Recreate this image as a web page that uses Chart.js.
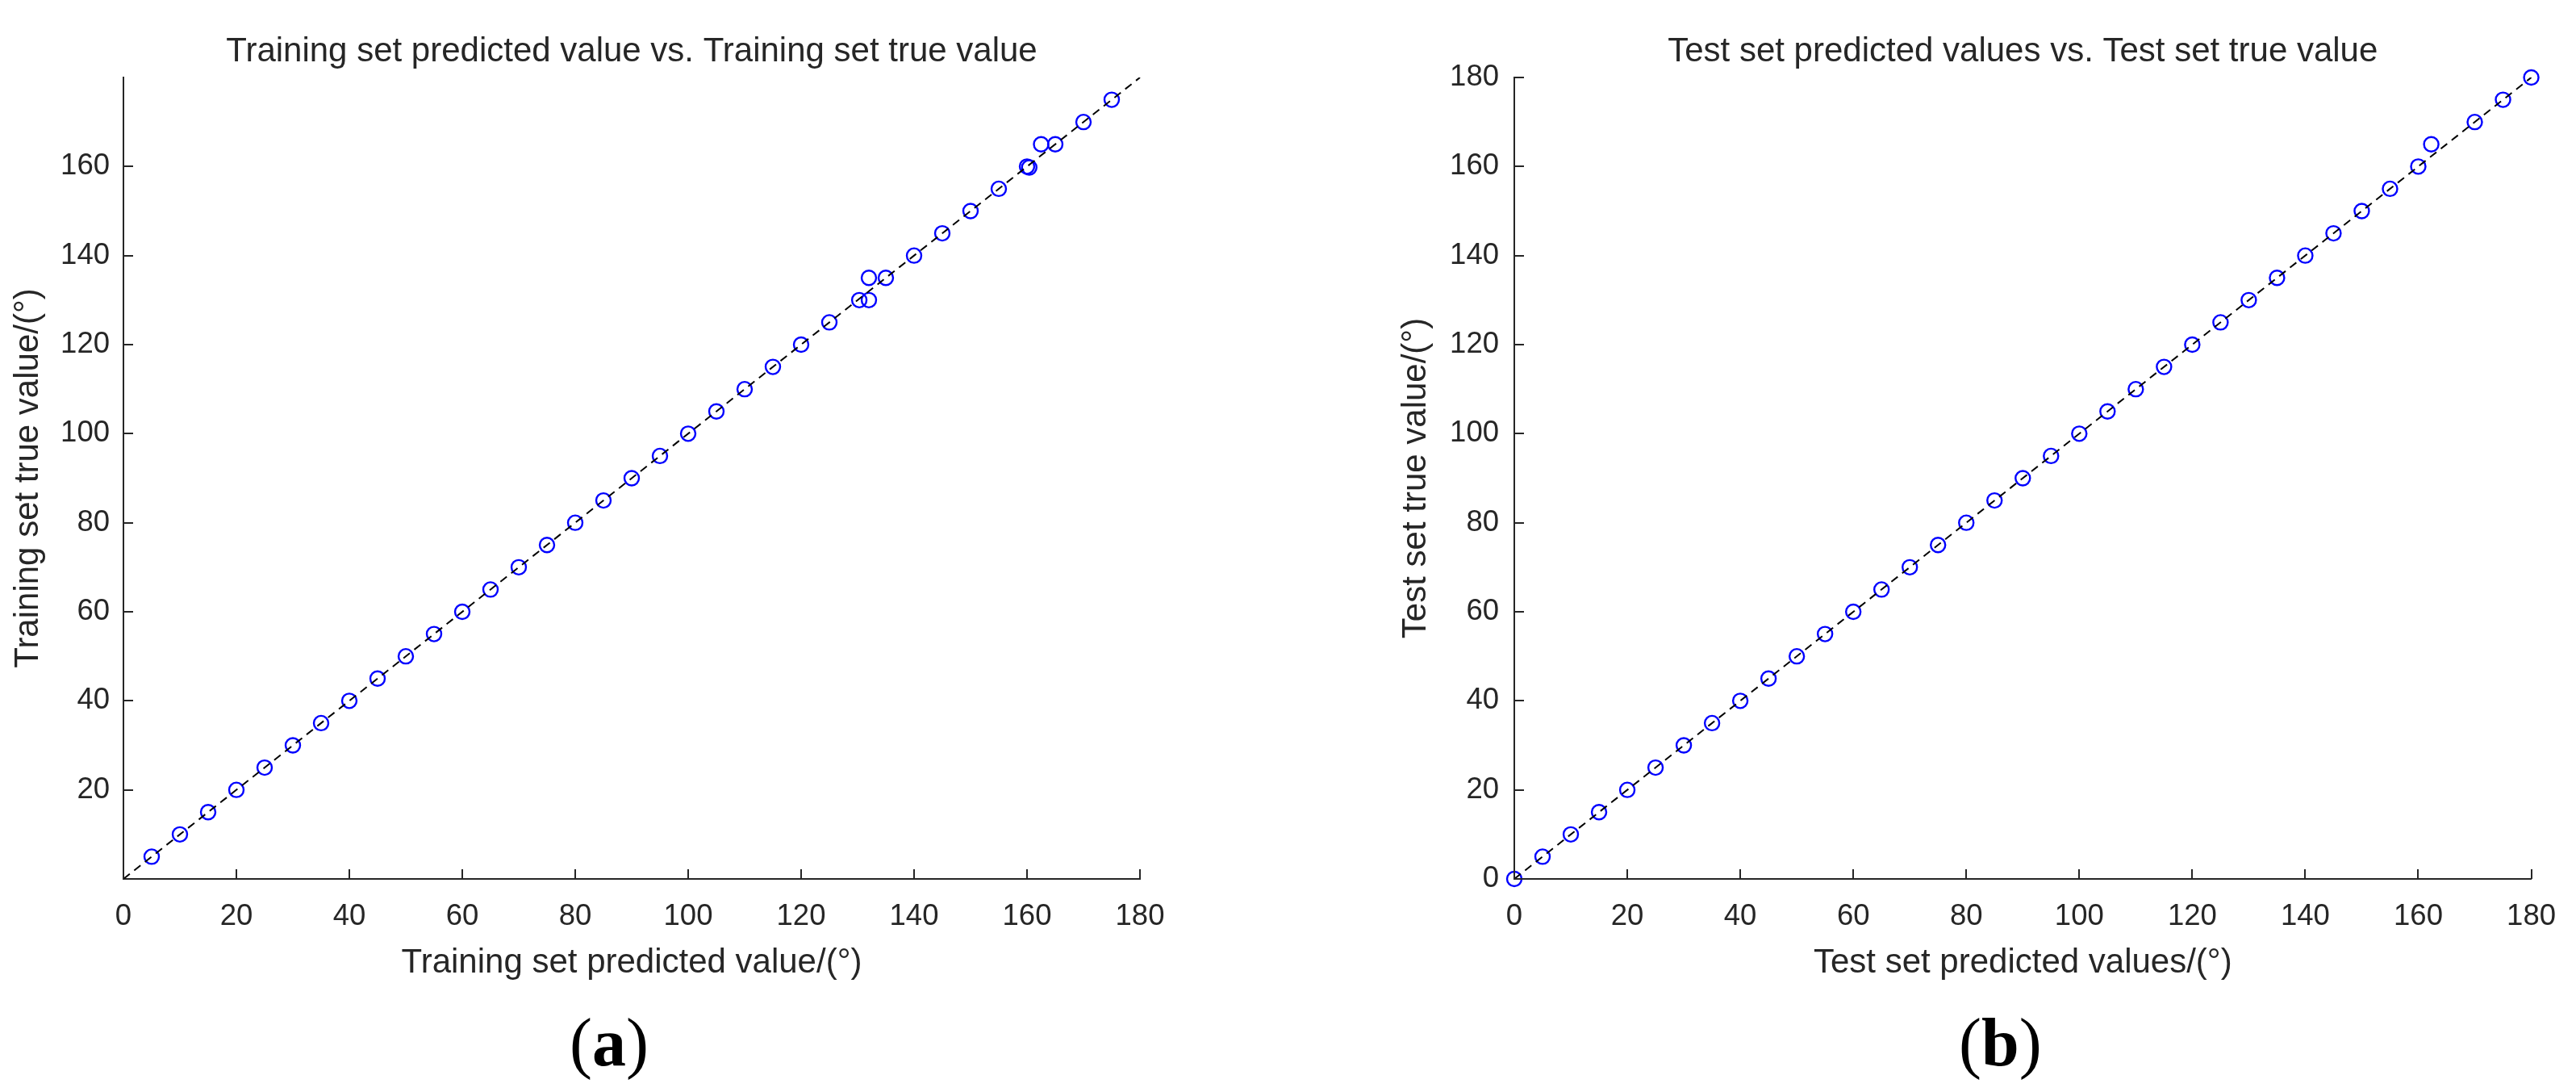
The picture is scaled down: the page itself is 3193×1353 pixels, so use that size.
<!DOCTYPE html>
<html>
<head>
<meta charset="utf-8">
<title>Predicted vs true value</title>
<script src="https://cdn.jsdelivr.net/npm/chart.js@4.4.1/dist/chart.umd.min.js"></script>
<style>
html, body { margin: 0; padding: 0; background: #fff; }
.panel { position: absolute; top: 0; height: 1353px; }
#wrapA { left: 0; width: 1596px; }
#wrapB { left: 1596px; width: 1597px; }
</style>
</head>
<body>
<div class="panel" id="wrapA"><canvas id="chartA"></canvas></div>
<div class="panel" id="wrapB"><canvas id="chartB"></canvas></div>
<script>
// (a) training set
var trainPred = [5, 10, 15, 20, 25, 30, 35, 40, 45, 50, 55, 60, 65, 70, 75, 80, 85, 90, 95, 100,
    105, 110, 115, 120, 125, 130.3, 132, 132, 135, 140, 145, 150, 155, 160, 160.4, 162.5, 165, 170, 175];
var trainTrue = [5, 10, 15, 20, 25, 30, 35, 40, 45, 50, 55, 60, 65, 70, 75, 80, 85, 90, 95, 100,
    105, 110, 115, 120, 125, 130, 130, 135, 135, 140, 145, 150, 155, 160, 159.8, 165, 165, 170, 175];

// (b) test set
var testPred = [0, 5, 10, 15, 20, 25, 30, 35, 40, 45, 50, 55, 60, 65, 70, 75, 80, 85, 90, 95, 100,
    105, 110, 115, 120, 125, 130, 135, 140, 145, 150, 155, 160, 162.3, 170, 175, 180];
var testTrue = [0, 5, 10, 15, 20, 25, 30, 35, 40, 45, 50, 55, 60, 65, 70, 75, 80, 85, 90, 95, 100,
    105, 110, 115, 120, 125, 130, 135, 140, 145, 150, 155, 160, 165, 170, 175, 180];

// y = x reference line
var refLine = [0, 180];

var xTicks = [0, 20, 40, 60, 80, 100, 120, 140, 160, 180];
var yTicksA = [20, 40, 60, 80, 100, 120, 140, 160];
var yTicksB = [0, 20, 40, 60, 80, 100, 120, 140, 160, 180];

var axisColor = '#262626';
Chart.defaults.font.family = "'Liberation Sans', Arial, sans-serif";
Chart.defaults.color = axisColor;

function toPoints(xs, ys) {
    return xs.map(function (v, i) { return { x: v, y: ys[i] }; });
}

// MATLAB style ticks pointing into the plot
var inwardTicks = {
    id: 'inwardTicks',
    afterDraw: function (chart) {
        var ctx = chart.ctx, a = chart.chartArea;
        var sx = chart.scales.x, sy = chart.scales.y;
        ctx.save();
        ctx.strokeStyle = axisColor;
        ctx.lineWidth = 2;
        ctx.beginPath();
        sx.ticks.forEach(function (t) {
            var p = Math.round(sx.getPixelForValue(t.value));
            ctx.moveTo(p, a.bottom);
            ctx.lineTo(p, a.bottom - 12);
        });
        sy.ticks.forEach(function (t) {
            var p = Math.round(sy.getPixelForValue(t.value));
            ctx.moveTo(a.left, p);
            ctx.lineTo(a.left + 12, p);
        });
        ctx.stroke();
        ctx.restore();
    }
};

// "(a)" / "(b)" under each panel
var panelLabel = {
    id: 'panelLabel',
    afterDraw: function (chart, args, opts) {
        var ctx = chart.ctx, a = chart.chartArea;
        var reg = "84px 'Liberation Serif', 'Times New Roman', serif";
        var bold = "bold 84px 'Liberation Serif', 'Times New Roman', serif";
        ctx.save();
        ctx.fillStyle = '#000';
        ctx.textBaseline = 'alphabetic';
        ctx.font = reg;
        var wp = ctx.measureText('(').width, wq = ctx.measureText(')').width;
        ctx.font = bold;
        var wl = ctx.measureText(opts.letter).width;
        var x = (a.left + a.right) / 2 + opts.shift - (wp + wl + wq) / 2;
        ctx.font = reg;
        ctx.fillText('(', x, opts.baseline);
        ctx.font = bold;
        ctx.fillText(opts.letter, x + wp, opts.baseline);
        ctx.font = reg;
        ctx.fillText(')', x + wp + wl, opts.baseline);
        ctx.restore();
    }
};

function makePanel(id, pred, tru, yTicks, cfg) {
    return new Chart(document.getElementById(id), {
        type: 'scatter',
        data: {
            datasets: [{
                type: 'line',
                data: toPoints(refLine, refLine),
                borderColor: '#000',
                borderWidth: 2,
                borderDash: [10, 7],
                pointRadius: 0,
                fill: false
            }, {
                data: toPoints(pred, tru),
                pointStyle: 'circle',
                pointRadius: 9,
                pointBorderWidth: 2.4,
                pointBorderColor: '#0000ff',
                pointBackgroundColor: 'rgba(0,0,0,0)',
                clip: false
            }]
        },
        options: {
            responsive: true,
            maintainAspectRatio: false,
            devicePixelRatio: 1,
            animation: false,
            layout: { padding: { left: 0, right: cfg.padRight, top: 0, bottom: 0 } },
            plugins: {
                legend: { display: false },
                tooltip: { enabled: false },
                panelLabel: { letter: cfg.letter, shift: -28, baseline: 1320 }
            },
            scales: {
                top: {
                    type: 'linear',
                    axis: 'x',
                    position: 'top',
                    grid: { display: false },
                    border: { display: false },
                    ticks: { display: false },
                    title: {
                        display: true,
                        text: cfg.title,
                        color: axisColor,
                        font: { size: 42 },
                        padding: { top: 39, bottom: 0 }
                    },
                    afterFit: function (s) { s.height = 96; }
                },
                x: {
                    type: 'linear',
                    position: 'bottom',
                    min: 0,
                    max: 180,
                    afterBuildTicks: function (s) { s.ticks = xTicks.map(function (v) { return { value: v }; }); },
                    grid: { display: false, drawTicks: false },
                    border: { display: true, color: axisColor, width: 2 },
                    ticks: { font: { size: 36.5 }, padding: 25, maxRotation: 0, autoSkip: false },
                    title: {
                        display: true,
                        text: cfg.xTitle,
                        font: { size: 42 },
                        padding: { top: 0, bottom: 134 }
                    },
                    afterFit: function (s) { s.height = 264; }
                },
                y: {
                    type: 'linear',
                    position: 'left',
                    min: 0,
                    max: 180,
                    afterBuildTicks: function (s) { s.ticks = yTicks.map(function (v) { return { value: v }; }); },
                    grid: { display: false, drawTicks: false },
                    border: { display: true, color: axisColor, width: 2 },
                    ticks: { font: { size: 36.5 }, padding: cfg.tickPad, autoSkip: false },
                    title: {
                        display: true,
                        text: cfg.yTitle,
                        font: { size: 42 },
                        padding: { top: cfg.yTitlePad, bottom: 0 }
                    },
                    afterFit: function (s) { s.width = cfg.yWidth; }
                }
            }
        },
        plugins: [inwardTicks, panelLabel]
    });
}

var chartA = makePanel('chartA', trainPred, trainTrue, yTicksA, {
    title: 'Training set predicted value vs. Training set true value',
    xTitle: 'Training set predicted value/(°)',
    yTitle: 'Training set true value/(°)',
    letter: 'a',
    padRight: 183,
    yWidth: 153,
    yTitlePad: 10,
    tickPad: 17
});

var chartB = makePanel('chartB', testPred, testTrue, yTicksB, {
    title: 'Test set predicted values vs. Test set true value',
    xTitle: 'Test set predicted values/(°)',
    yTitle: 'Test set true value/(°)',
    letter: 'b',
    padRight: 47,
    yWidth: 281,
    yTitlePad: 134,
    tickPad: 19
});
</script>
</body>
</html>
